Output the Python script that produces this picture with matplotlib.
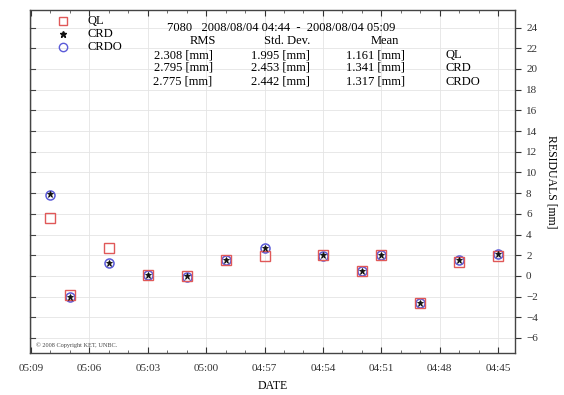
import matplotlib
matplotlib.use("Agg")
import matplotlib.pyplot as plt
import matplotlib.dates as mdates
import pandas as pd

plt.rcParams['font.family'] = ['Liberation Serif', 'DejaVu Serif']

# ---- data ----
times = ["04:45", "04:47", "04:49", "04:51", "04:52", "04:54", "04:57",
         "04:59", "05:01", "05:03", "05:05", "05:07", "05:08"]
ql = [1.95, 1.30, -2.62, 2.00, 0.49, 2.00, 1.94, 1.58, -0.03, 0.13, 2.65, -1.82, 5.56]
crd = [2.15, 1.52, -2.62, 2.00, 0.49, 2.00, 2.72, 1.58, -0.03, 0.13, 1.29, -2.04, 7.89]
crdo = [2.12, 1.50, -2.64, 1.98, 0.47, 1.97, 2.70, 1.55, -0.06, 0.10, 1.26, -2.06, 7.86]

series_names = ["QL", "CRD", "CRDO"]
mean_vals = ["1.161 [mm]", "1.341 [mm]", "1.317 [mm]"]
std_vals = ["1.995 [mm]", "2.453 [mm]", "2.442 [mm]"]
rms_vals = ["2.308 [mm]", "2.795 [mm]", "2.775 [mm]"]
header = "7080   2008/08/04 04:44  -  2008/08/04 05:09"
yticks = list(range(-6, 25, 2))

t = pd.to_datetime(["2008-08-04 " + s for s in times])

W, H = 564, 395
fig = plt.figure(figsize=(W / 100, H / 100), dpi=100)
L, R, T, B = 30, 515, 10, 353
ax = fig.add_axes([L / W, 1 - B / H, (R - L) / W, (B - T) / H])

col_ql = '#e05858'
col_crd = '#111111'
col_crdo = '#5a5ad8'

ax.plot(t, crdo, linestyle='none', marker='o', ms=6.5, mfc='none', mec=col_crdo, mew=1.1, zorder=3)
ax.plot(t, ql, linestyle='none', marker='s', ms=6.5, mfc='none', mec=col_ql, mew=1.0, zorder=4)
ax.plot(t, crd, linestyle='none', marker='*', ms=5, color=col_crd, mew=0.6, zorder=5)

ax.set_xlim(pd.Timestamp("2008-08-04 05:09:03"), pd.Timestamp("2008-08-04 04:44:08"))
ax.set_ylim(-7.45, 25.7)

ax.xaxis.set_major_locator(mdates.MinuteLocator(byminute=range(0, 60, 3)))
ax.xaxis.set_minor_locator(mdates.MinuteLocator())
ax.xaxis.set_major_formatter(mdates.DateFormatter('%H:%M'))
ax.set_yticks(yticks)

ax.yaxis.tick_right()
ax.yaxis.set_label_position('right')
ax.tick_params(axis='y', which='major', direction='out', length=4, width=0.8,
               labelsize=8, pad=4, right=True, left=False, colors='#333333')
ax.tick_params(axis='x', which='major', direction='in', length=4, width=0.8,
               labelsize=8, pad=8, top=True, bottom=True, colors='#333333')
ax.tick_params(axis='x', which='minor', direction='in', length=2, width=0.6,
               top=True, bottom=True, colors='#555555')
# inward ticks on the left side
for yv in yticks:
    ax.plot([0, 0.01], [yv, yv], transform=ax.get_yaxis_transform(), color='#444444', lw=0.8,
            clip_on=False, zorder=2)

ax.grid(True, which='major', color='#e4e4e4', lw=0.6)
ax.set_axisbelow(True)
for sp in ax.spines.values():
    sp.set_color('#444444')
    sp.set_linewidth(1.0)

ax.set_xlabel("DATE", fontsize=8.5, labelpad=5)
ax.set_ylabel("RESIDUALS [mm]", fontsize=8.5, rotation=270, labelpad=14)


def px(x, y):
    return x / W, 1 - y / H


fs = 9
# legend
leg_y = [21, 34, 47]
fig.lines.append(plt.Line2D(*[[v] for v in px(63, leg_y[0])], marker='s', ms=6, mfc='none',
                            mec=col_ql, mew=1.0, linestyle='none', transform=fig.transFigure))
fig.lines.append(plt.Line2D(*[[v] for v in px(63, leg_y[1])], marker='*', ms=5, color=col_crd,
                            linestyle='none', transform=fig.transFigure))
fig.lines.append(plt.Line2D(*[[v] for v in px(63, leg_y[2])], marker='o', ms=6, mfc='none',
                            mec=col_crdo, mew=1.0, linestyle='none', transform=fig.transFigure))
for name, yy in zip(series_names, leg_y):
    fig.text(*px(87, yy), name, fontsize=fs, ha='left', va='center')

# statistics table
fig.text(*px(281, 28), header, fontsize=fs, ha='center', va='center')
fig.text(*px(385, 41), "Mean", fontsize=fs, ha='center', va='center')
fig.text(*px(287, 41), "Std. Dev.", fontsize=fs, ha='center', va='center')
fig.text(*px(203, 41), "RMS", fontsize=fs, ha='center', va='center')
row_y = [55, 68, 82]
for i, yy in enumerate(row_y):
    fig.text(*px(445, yy), series_names[i], fontsize=fs, ha='left', va='center')
    fig.text(*px(375, yy), mean_vals[i], fontsize=fs, ha='center', va='center')
    fig.text(*px(280, yy), std_vals[i], fontsize=fs, ha='center', va='center')
    fig.text(*px(183, yy), rms_vals[i], fontsize=fs, ha='center', va='center')

fig.text(*px(36, 345), "\u00a9 2008 Copyright KET, UNBC.", fontsize=4.5, ha='left', va='center',
         color='#444444')

fig.savefig("out.png", dpi=100)
